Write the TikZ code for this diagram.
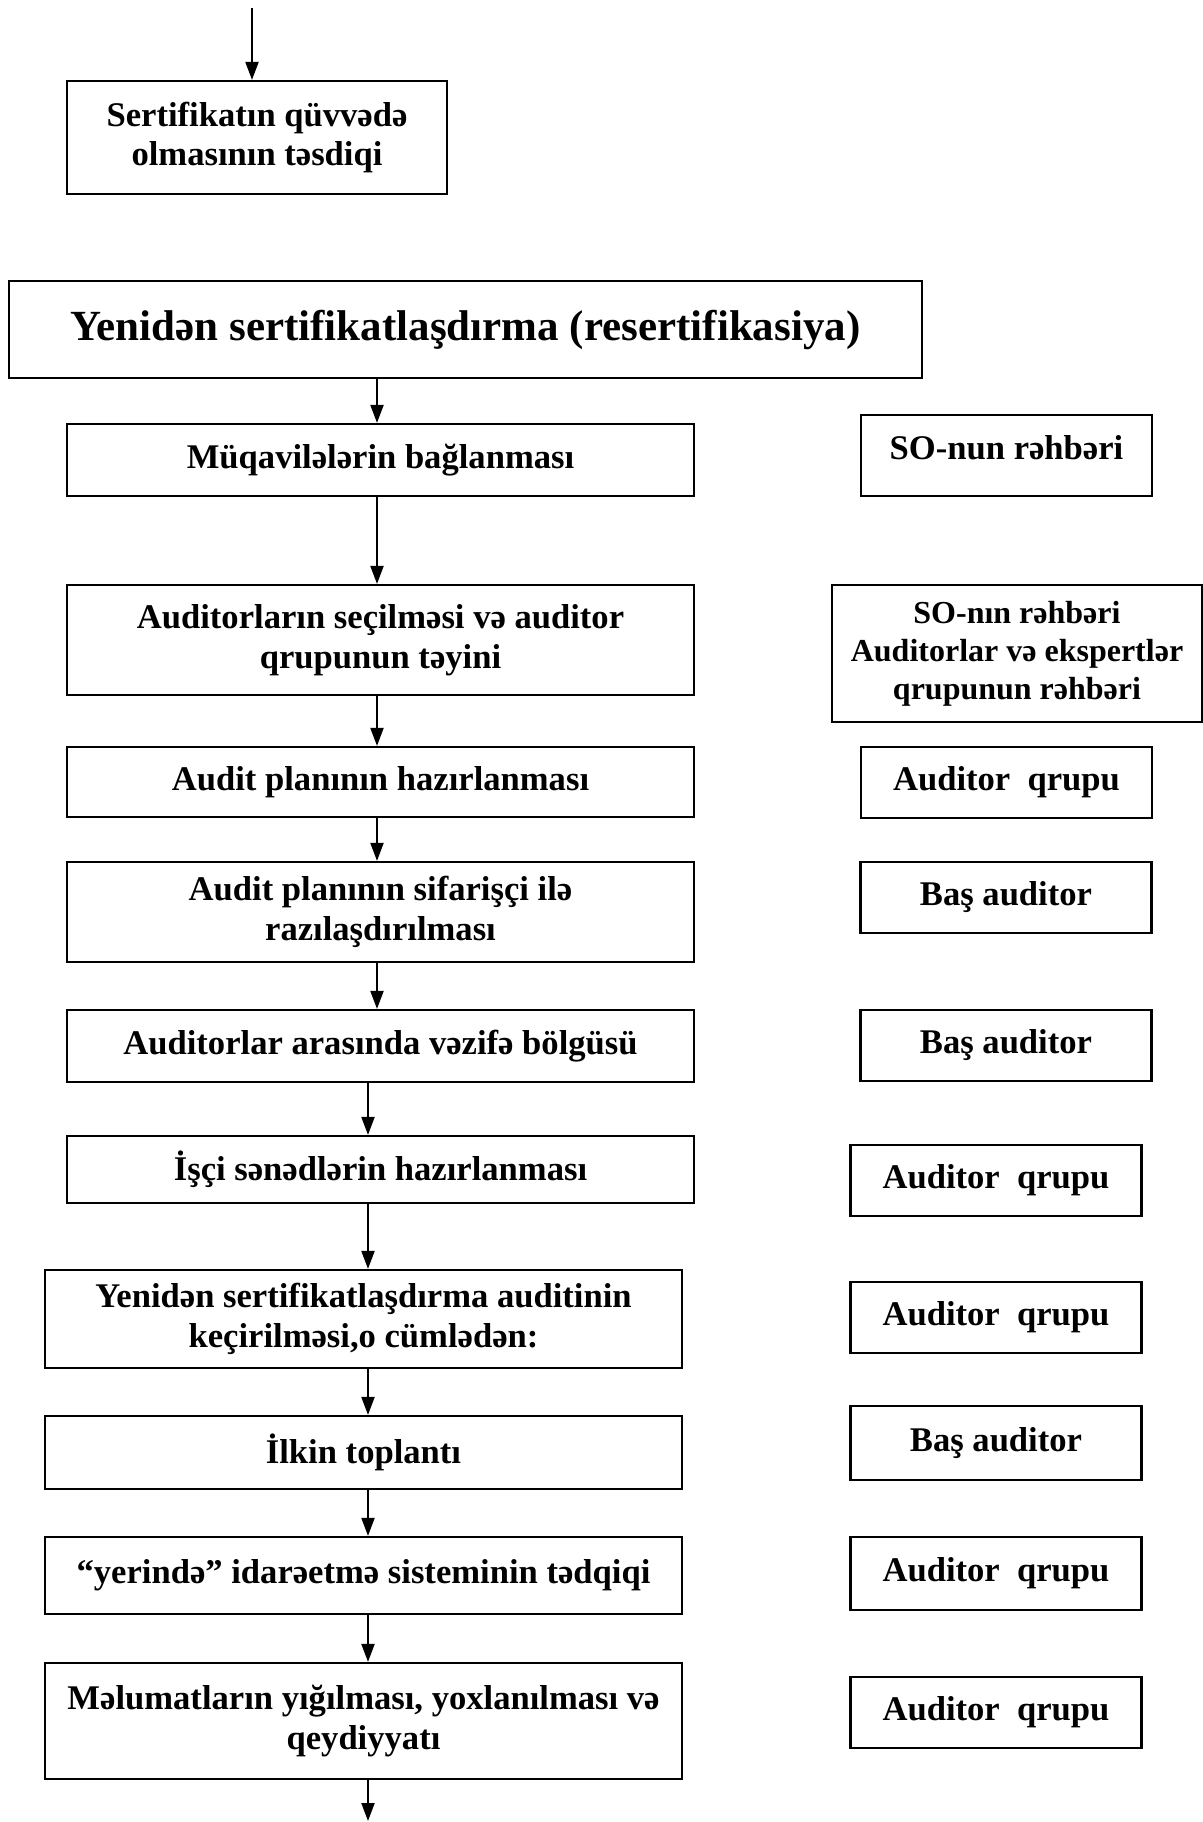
\documentclass[tikz,border=0pt]{standalone}
\usepackage{fontspec}
\setmainfont{Liberation Serif}
\usetikzlibrary{arrows.meta}
\begin{document}
\begin{tikzpicture}[x=0.5pt,y=-0.5pt,
  bx/.style={draw, line width=1.1pt, inner sep=0pt, align=center, font=\bfseries\fontsize{17.3}{19.8}\selectfont},
  wide/.style={minimum width=313.5pt},
  wideb/.style={minimum width=318.5pt},
  role/.style={minimum width=145.5pt},
  arr/.style={line width=1pt, -{Triangle[length=9pt,width=6.5pt]}}]
\useasboundingbox (0,0) rectangle (1203,1822);
% column coordinates for connectors
\coordinate (top) at (252,8);
\coordinate (xa) at (377,0);
\coordinate (xb) at (368,0);
\coordinate (bot) at (368,1821);
% main column
\node[bx, minimum width=190pt, minimum height=56.5pt] (cert) at (257,137.5) {Sertifikatın qüvvədə\\olmasının təsdiqi};
\node[bx, minimum width=456.5pt, minimum height=48.5pt, font=\bfseries\fontsize{21.5}{25}\selectfont] (title) at (465.5,329.5) {\raisebox{3pt}{Yenidən sertifikatlaşdırma (resertifikasiya)}};
\node[bx, wide, minimum height=36pt] (muq) at (380.5,460) {Müqavilələrin bağlanması};
\node[bx, wide, minimum height=55pt] (sec) at (380.5,640) {Auditorların seçilməsi və auditor\\qrupunun təyini};
\node[bx, wide, minimum height=35pt] (plan) at (380.5,782) {Audit planının hazırlanması};
\node[bx, wide, minimum height=50pt] (sif) at (380.5,912) {Audit planının sifarişçi ilə\\razılaşdırılması};
\node[bx, wide, minimum height=36pt] (vez) at (380.5,1046) {Auditorlar arasında vəzifə bölgüsü};
\node[bx, wide, minimum height=33.5pt] (isci) at (380.5,1169.5) {İşçi sənədlərin hazırlanması};
\node[bx, wideb, minimum height=49pt] (kec) at (363.5,1319) {Yenidən sertifikatlaşdırma auditinin\\keçirilməsi,o cümlədən:};
\node[bx, wideb, minimum height=36.5pt] (ilk) at (363.5,1452.5) {İlkin toplantı};
\node[bx, wideb, minimum height=38.5pt] (yer) at (363.5,1575.5) {“yerində” idarəetmə sisteminin tədqiqi};
\node[bx, wideb, minimum height=58pt] (mel) at (363.5,1721) {Məlumatların yığılması, yoxlanılması və\\qeydiyyatı};
% responsibility column
\node[bx, role, minimum height=40.5pt] (r1) at (1006.5,455.5) {\raisebox{8pt}{SO-nun rəhbəri}};
\node[bx, minimum width=185pt, minimum height=68.5pt, font=\bfseries\fontsize{16}{19}\selectfont] (r2) at (1017,653.5) {SO-nın rəhbəri\\Auditorlar və ekspertlər\\qrupunun rəhbəri};
\node[bx, role, minimum height=35.5pt] (r3) at (1006.5,782.5) {Auditor\ \ qrupu};
\node[bx, role, minimum height=35.5pt] (r4) at (1006,897.5) {Baş auditor};
\node[bx, role, minimum height=35.5pt] (r5) at (1006,1045.5) {Baş auditor};
\node[bx, role, minimum height=35.5pt] (r6) at (996,1180.5) {Auditor\ \ qrupu};
\node[bx, role, minimum height=35.5pt] (r7) at (996,1317.5) {Auditor\ \ qrupu};
\node[bx, role, minimum height=37pt] (r8) at (996,1443) {Baş auditor};
\node[bx, role, minimum height=36.5pt] (r9) at (996,1573.5) {Auditor\ \ qrupu};
\node[bx, role, minimum height=35.5pt] (r10) at (996,1712.5) {Auditor\ \ qrupu};
% connectors
\draw[arr] (top) -- (top |- cert.north);
\draw[arr] (title.south -| xa) -- (muq.north -| xa);
\draw[arr] (muq.south -| xa) -- (sec.north -| xa);
\draw[arr] (sec.south -| xa) -- (plan.north -| xa);
\draw[arr] (plan.south -| xa) -- (sif.north -| xa);
\draw[arr] (sif.south -| xa) -- (vez.north -| xa);
\draw[arr] (vez.south -| xb) -- (isci.north -| xb);
\draw[arr] (isci.south -| xb) -- (kec.north -| xb);
\draw[arr] (kec.south -| xb) -- (ilk.north -| xb);
\draw[arr] (ilk.south -| xb) -- (yer.north -| xb);
\draw[arr] (yer.south -| xb) -- (mel.north -| xb);
\draw[arr] (mel.south -| xb) -- (bot);
\end{tikzpicture}
\end{document}
